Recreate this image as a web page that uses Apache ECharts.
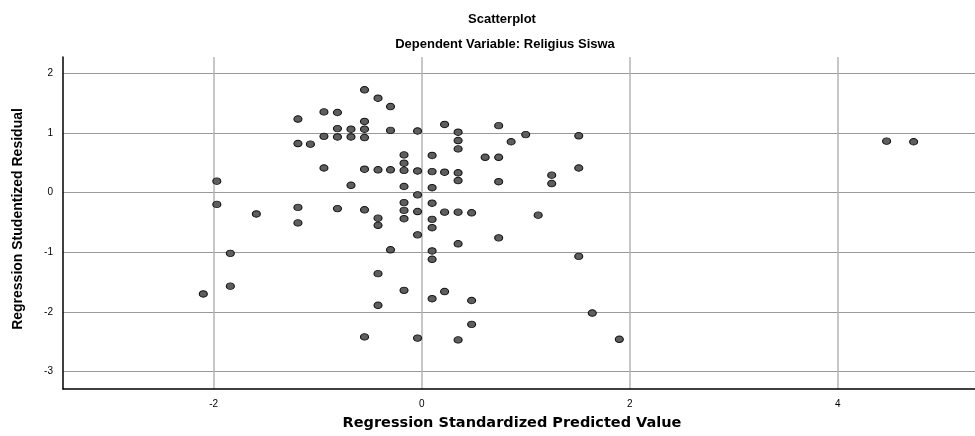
<!DOCTYPE html>
<html>
<head>
<meta charset="utf-8">
<script src="https://cdn.jsdelivr.net/npm/echarts@6/dist/echarts.min.js"></script>
<style>html,body{margin:0;padding:0;background:#fff}#c{width:975px;height:436px}</style>
</head>
<body>
<div id="c"></div>
<script>
const predicted = [
  -1.19,-0.94,-1.19,-1.07,-0.94,-0.94,-1.97,-1.97,-1.59,-1.19,-1.19,
  -1.84,-1.84,-2.10,
  -0.55,-0.42,-0.30,-0.81,-0.55,-0.81,-0.68,-0.55,-0.30,-0.04,0.22,0.35,0.74,1.00,1.51,
  -0.81,-0.68,-0.55,0.35,0.86,0.35,-0.17,0.10,0.61,0.74,-0.17,1.51,
  -0.55,-0.42,-0.30,-0.17,-0.04,0.10,0.22,0.35,1.25,0.35,0.74,1.25,-0.68,-0.17,0.10,
  -0.04,-0.17,0.10,-0.81,-0.55,-0.17,-0.04,0.22,0.35,0.48,1.12,-0.42,-0.17,0.10,
  -0.42,0.10,-0.04,0.74,0.35,-0.30,0.10,0.10,1.51,-0.42,-0.17,0.22,0.10,0.48,-0.42,
  1.64,0.48,-0.55,-0.04,0.35,1.90,
  4.47,4.73
];
const residual = [
  1.23,1.35,0.82,0.81,0.94,0.41,0.19,-0.20,-0.36,-0.25,-0.51,
  -1.02,-1.57,-1.70,
  1.72,1.58,1.44,1.34,1.19,1.07,1.06,1.06,1.04,1.03,1.14,1.01,1.12,0.97,0.95,
  0.93,0.93,0.92,0.87,0.85,0.73,0.63,0.62,0.59,0.59,0.49,0.41,
  0.39,0.38,0.38,0.37,0.36,0.35,0.34,0.33,0.29,0.20,0.18,0.15,0.12,0.10,0.08,
  -0.04,-0.17,-0.18,-0.27,-0.29,-0.30,-0.32,-0.33,-0.33,-0.34,-0.38,-0.43,-0.44,-0.45,
  -0.55,-0.59,-0.71,-0.76,-0.86,-0.96,-0.98,-1.12,-1.07,-1.36,-1.64,-1.66,-1.78,-1.81,-1.89,
  -2.02,-2.21,-2.42,-2.44,-2.47,-2.46,
  0.86,0.85
];
const xTicks = [-2, 0, 2, 4];
const yTicks = [2, 1, 0, -1, -2, -3];
const titleText = 'Scatterplot';
const subtitleText = 'Dependent Variable: Religius Siswa';
const xName = 'Regression Standardized Predicted Value';
const yName = 'Regression Studentized Residual';

const points = predicted.map((v, i) => [v, residual[i]]);
const fam = '"Liberation Sans", Arial, sans-serif';
const chart = echarts.init(document.getElementById('c'), null, {renderer: 'canvas'});
chart.setOption({
  backgroundColor: '#fff',
  animation: false,
  title: [
    {text: titleText, left: 497, top: 8, textAlign: 'center',
     textStyle: {fontFamily: fam, fontSize: 13, fontWeight: 'bold', color: '#000'}},
    {text: subtitleText, left: 500, top: 33, textAlign: 'center',
     textStyle: {fontFamily: fam, fontSize: 13, fontWeight: 'bold', color: '#000'}}
  ],
  grid: {left: 63, right: 0, top: 57, bottom: 44, containLabel: false},
  xAxis: {
    type: 'value', min: -3.449, max: 5.32,
    name: xName, nameLocation: 'middle', nameGap: 27,
    nameTextStyle: {fontFamily: '"DejaVu Sans", sans-serif', fontSize: 14.5, fontWeight: 'bold', color: '#000', padding: [0, 14, 0, 0]},
    axisLine: {show: true, onZero: false, lineStyle: {color: '#000', width: 1.5}},
    axisTick: {show: false},
    axisLabel: {fontFamily: fam, fontSize: 10, color: '#000', margin: 10,
      showMinLabel: false, showMaxLabel: false,
      formatter: v => xTicks.includes(v) ? String(v) : ''},
    splitLine: {show: true, showMinLine: false, showMaxLine: false,
      lineStyle: {color: '#b4b4b4', width: 1.5}}
  },
  yAxis: {
    type: 'value', min: -3.293, max: 2.27,
    name: yName, nameLocation: 'middle', nameGap: 38, nameRotate: 90,
    nameTextStyle: {fontFamily: fam, fontSize: 14, fontWeight: 'bold', color: '#000', padding: [0, 0, 0, 8]},
    axisLine: {show: true, onZero: false, lineStyle: {color: '#000', width: 1.5}},
    axisTick: {show: false},
    axisLabel: {fontFamily: fam, fontSize: 10, color: '#000', margin: 10,
      showMinLabel: false, showMaxLabel: false,
      formatter: v => yTicks.includes(v) ? String(v) : ''},
    splitLine: {show: true, showMinLine: false, showMaxLine: false,
      lineStyle: {color: '#999', width: 1}}
  },
  series: [{
    type: 'scatter',
    data: points,
    symbol: 'circle',
    symbolSize: [8, 6.5],
    itemStyle: {color: '#5e5e5e', borderColor: '#111', borderWidth: 1, opacity: 1}
  }]
});
</script>
</body>
</html>
